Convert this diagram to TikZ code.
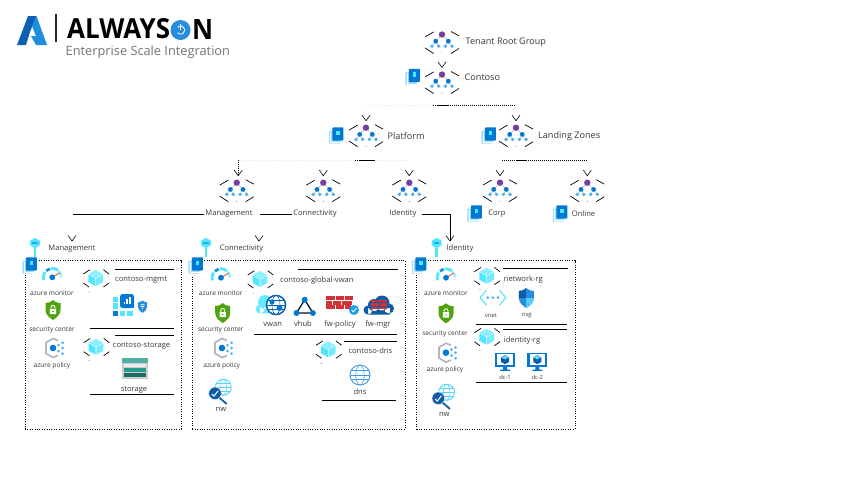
\documentclass[tikz,border=0pt]{standalone}
\usepackage{fontspec}
\usepackage{graphicx}
\setmainfont{Open Sans}
\usetikzlibrary{arrows.meta}
\definecolor{mgpurple}{HTML}{773E9C}
\definecolor{azblue}{HTML}{0078D4}
\definecolor{azdeep}{HTML}{0F5BA8}
\definecolor{azlight}{HTML}{50B0F0}
\definecolor{azcyan}{HTML}{50E6FF}
\definecolor{azpale}{HTML}{C3F1FF}
\definecolor{brickred}{HTML}{D13438}
\definecolor{shieldgreen}{HTML}{4FA30F}
\definecolor{hexgrey}{HTML}{B4B4C4}
\definecolor{tealband}{HTML}{2DB5A5}
\newcommand{\shieldpath}{(0,-10) .. controls (-3,-7.5) and (-5,-7) .. (-7.5,-7) -- (-7.5,0) .. controls (-7.5,5) and (-3,8) .. (0,10) .. controls (3,8) and (7.5,5) .. (7.5,0) -- (7.5,-7) .. controls (5,-7) and (3,-7.5) .. (0,-10) -- cycle}
\newcommand{\globeshape}[2]{
	\draw[#1,fill=white,line width=.9pt] (0,0) circle (#2);
	\draw[#1,line width=.6pt] (0,0) ellipse ({#2*.42} and #2);
	\draw[#1,line width=.6pt] ({-#2},0) -- (#2,0);
	\draw[#1,line width=.6pt] ({-#2*.87},{-#2*.45}) -- ({#2*.87},{-#2*.45});
	\draw[#1,line width=.6pt] ({-#2*.87},{#2*.45}) -- ({#2*.87},{#2*.45});
}
\tikzset{
	wire/.style={line width=.6pt,black},
	faintwire/.style={line width=.4pt,black!9,dotted},
	densewire/.style={line width=.6pt,black,dash pattern=on 1pt off 1pt},
	tipwire/.style={line width=.3pt,white,-{Straight Barb[black,length=5.5pt,width=8pt,line width=.6pt]}},
	blacktip/.style={-{Straight Barb[black,length=5.5pt,width=8pt,line width=.6pt]}},
	rule/.style={line width=.7pt,black},
	hexdash/.style={line width=.7pt,black},
	zonebox/.style={draw,line width=.6pt,dash pattern=on 1pt off 1.4pt,inner sep=0pt},
	lbl/.style={font=\fontsize{7.6}{9}\selectfont,text=black!78,inner sep=1pt,yshift=-.8pt},
	toplbl/.style={lbl,anchor=west,font=\fontsize{9.1}{11}\selectfont},
	svclbl/.style={lbl,font=\fontsize{6.6}{8}\selectfont},
	smalllbl/.style={lbl,font=\fontsize{5.8}{7}\selectfont},
	mgicon/.pic={
		\coordinate (-top) at (0,-6.5);
		\coordinate (-bottom) at (0,18.7);
		\draw[hexdash] (-17,2.4) -- (-8.4,-2.6);
		\draw[hexdash] (9,-3) -- (17,1.4);
		\draw[hexdash] (-17,13.4) -- (-8.4,19);
		\draw[hexdash] (9,19) -- (17,14);
		\fill (0,18.6) circle (.4);
		\draw[black!30,line width=.5pt] (-6.3,6.7) -- (0,0) -- (6.3,6.7);
		\draw[black!30,line width=.5pt] (-10,11.7) -- (-6.3,6.7) -- (-3.4,11.7) (3.4,11.7) -- (6.3,6.7) -- (10,11.7);
		\fill[mgpurple] (0,0) circle (3.2);
		\foreach \x in {-6.3,6.3} \fill[azblue] (\x,6.7) circle (2.4);
		\foreach \x in {-10,-3.4,3.4,10} \fill[azlight] (\x,11.7) circle (1.9);
	},
	subicon/.pic={
		\fill[white] (-8,-9) rectangle (8.4,9);
		\fill[azpale!70!azlight,rounded corners=.8pt] (-7.2,-5) rectangle (4,8.2);
		\draw[white,line width=.4pt] (-5.8,-4) -- (-5.8,6.8) -- (4,6.8);
		\fill[azblue,rounded corners=.8pt] (-3.6,-8.2) rectangle (7.4,5);
		\fill[azcyan] (0.2,-4.6) rectangle (3.8,-0.4);
	},
	keyicon/.pic={
		\fill[azcyan] (-1.4,0) rectangle (1.4,14);
		\fill[azcyan] (0,-5.2) -- (5,-2.2) -- (5,2.2) -- (0,5.2) -- (-5,2.2) -- (-5,-2.2) -- cycle;
		\fill[azblue!55!azcyan] (-2.6,-.6) rectangle (2.6,.6);
	},
	rgicon/.pic={
		\draw[hexdash] (-12.3,-4) -- (-5.7,-8.3);
		\draw[hexdash] (7.7,-8.3) -- (13.3,-4);
		\draw[hexdash] (-12.3,5) -- (-6.7,9);
		\draw[hexdash] (7.7,9) -- (13.3,5);
		\fill (-6.7,14) circle (.4);
		\fill[azcyan!65!white] (0,-8) -- (7.3,-4) -- (0,0) -- (-7.3,-4) -- cycle;
		\fill[azcyan] (-7.3,-3.4) -- (-.3,.5) -- (-.3,8) -- (-7.3,4) -- cycle;
		\fill[azcyan!80!white] (7.3,-3.4) -- (.3,.5) -- (.3,8) -- (7.3,4) -- cycle;
	},
	monitoricon/.pic={
		\draw[azcyan,line width=2.8pt] (-8.6,2.6) arc (163:215:9);
		\draw[azblue!70!azcyan,line width=2.8pt] (-6.1,-6.5) arc (227:255:9);
		\draw[azcyan,line width=2.8pt] (-1.2,-8.9) arc (262:310:9);
		\draw[azcyan!60!white,line width=2.8pt] (6.4,-6.3) arc (316:358:9);
		\draw[brickred!60!orange,line width=.8pt] (0,0) -- (7.5,-4.5);
		\fill[azblue] (0,0) circle (2.9);
	},
	secicon/.pic={
		\fill[shieldgreen] \shieldpath;
		\fill[white,rounded corners=.4pt] (-3.2,-1.2) rectangle (3.2,4.2);
		\draw[white,line width=.9pt] (-2,-1.2) -- (-2,-2.6) arc (180:360:2) -- (2,-1.2);
		\fill[shieldgreen] (0,1.5) circle (.8);
	},
	policyicon/.pic={
		\draw[hexgrey,line width=1.7pt] (5,-7.4) -- (0,-9.5) -- (-7,-5.4) -- (-7,5.4) -- (0,9.5) -- (5,7.4);
		\fill[azblue] (0,0) circle (3.3);
		\foreach \x/\y in {5.5/-3,5.5/3,9.6/-5.2,9.6/0,9.6/5.6} \fill[azlight] (\x,\y) circle (1.5);
	},
	nwicon/.pic={
		\begin{scope}[shift={(8.3,-6)}]
			\globeshape{azcyan!70!azlight}{8}
		\end{scope}
		\draw[azdeep,line width=1.8pt,line cap=round] (4,4) -- (11.5,10.5);
		\draw[white,fill=azdeep,line width=.4pt] (0,0) circle (6.3);
		\draw[white,line width=1pt] (-3.2,.8) -- (-1,2.8) -- (3.2,-2.6);
	},
	tilesicon/.pic={
		\foreach \x/\y in {-11.7/-1.7,-11.7/5,-4.7/12.3,3/12.3} \fill[azcyan] (\x-2.6,\y-2.6) rectangle (\x+2.6,\y+2.6);
		\fill[azblue] (-14.3,9.7) rectangle (-9.1,14.9);
		\fill[azblue,rounded corners=2.6pt] (-7,-7) -- (7,-7) -- (7,7) -- (-7,7) -- cycle;
		\fill[azblue] (0,7) rectangle (7,3);
		\foreach \x/\h in {-2.5/2.5,.2/5,2.9/7} \fill[white] (\x-.8,3) rectangle (\x+.8,3-\h);
		\begin{scope}[shift={(15.5,5.7)},scale=.62]
			\fill[azblue!85!white] \shieldpath;
			\draw[white,line width=.6pt] (-3.6,-2.4) arc (215:325:4.4);
			\draw[white,line width=.6pt] (-2,0) arc (225:315:2.8);
			\fill[white] (0,2.6) circle (1.1);
		\end{scope}
	},
	storageicon/.pic={
		\fill[black!20] (-13,-10.5) rectangle (13,10.5);
		\fill[tealband!85!black!80] (-13,-10.5) rectangle (13,-5.5);
		\fill[black!8] (-11,-4.5) rectangle (11,-1);
		\fill[tealband!85!black] (-11,-.5) rectangle (11,3.5);
		\fill[tealband!60!black] (-11,5) rectangle (11,9);
	},
	vwanicon/.pic={
		\fill[azcyan!85!white] (-16,4) circle (4.4) (-11,-3) circle (7) (-5,3) circle (5) (-16,2) rectangle (0,8.4);
		\globeshape{azdeep!70!azblue}{9.6}
		\draw[azdeep!70!azblue,line width=1.4pt] (0,0) circle (9.6);
		\fill[azblue] (-4,-3) circle (2.6) (3.5,3) circle (3);
	},
	vhubicon/.pic={
		\draw[black!80!azdeep,line width=1.3pt] (0,-7) -- (-8.2,6.3) -- (8.2,6.3) -- cycle;
		\fill[azblue] (0,-7) circle (3) (-8.2,6.3) circle (3) (8.2,6.3) circle (3);
	},
	wallicon/.pic={
		\foreach \y/\xa/\xb in {-7/-15/-6,-7/-5/3,-7/4/12,-2.3/-15/-9,-2.3/-8/0,-2.3/1/11,2.4/-15/-6,2.4/-5/3,2.4/4/10} \fill[brickred] (\xa,\y-2) rectangle (\xb,\y+2);
		\fill[azblue!65!azcyan] (13,5) circle (5);
		\draw[white,line width=.8pt] (10.6,5) -- (12.4,7) -- (15.4,3);
	},
	mgricon/.pic={
		\fill[azdeep] (-11,5) circle (4.5) (-5,0) circle (6) (3,-2) circle (7.5) (10,3.5) circle (5) (-11,3) rectangle (11,9.5);
		\foreach \y/\xa/\xb in {-4/-8/-2,-4/-1/8,-.5/-8/0,-.5/1/8,3/-8/-2,3/-1/8} \fill[brickred] (\xa,\y-1.4) rectangle (\xb,\y+1.4);
	},
	dnsicon/.pic={\globeshape{azblue!75!white}{10}},
	vneticon/.pic={
		\draw[azcyan,line width=1.1pt] (-6.5,-7.5) -- (-13,0) -- (-6.5,7.5) (6.5,-7.5) -- (13,0) -- (6.5,7.5);
		\foreach \x in {-5.3,0,5} \fill[azlight] (\x,0) circle (1.5);
	},
	nsgicon/.pic={
		\begin{scope}
			\clip \shieldpath;
			\fill[azblue!85!white] (-8,-10) rectangle (8,10);
			\fill[azdeep] (-8,-10) rectangle (0,0);
			\fill[azcyan!55!azlight] (0,0) rectangle (8,10);
		\end{scope}
	},
	dcicon/.pic={
		\fill[azblue] (-10,-7.5) rectangle (10,7);
		\fill[white] (-7.8,-5.6) rectangle (7.8,5);
		\fill[azblue] (-2,7) rectangle (2,9.5) (-5,9.5) rectangle (5,10.8);
		\fill[azdeep] (0,-4.8) -- (4,-2.6) -- (4,2) -- (0,4.2) -- (-4,2) -- (-4,-2.6) -- cycle;
		\fill[azcyan] (0,-4.4) -- (3.6,-2.5) -- (0,-.7) -- (-3.6,-2.5) -- cycle;
	},
}
\begin{document}
\begin{tikzpicture}[x=1pt,y=-1pt,line join=round]
	\useasboundingbox (0,0) rectangle (853,480);
	% logo
	\fill[azdeep!80!azblue] (17,45) -- (28,16) -- (36.5,16) -- (30,32) -- (26,45) -- cycle;
	\fill[azblue!60!azlight] (36.5,16) -- (47,45) -- (36,45) -- (31,36) -- (36,36) -- (32,26) -- cycle;
	\fill[black!85] (55.3,14) rectangle (57,42);
	\node[anchor=west,inner sep=0pt] (logoname) at (67,29) {\resizebox{103pt}{20pt}{\bfseries ALWAYS}};
	\fill[azblue!85!white] (180.5,30) circle (10);
	\draw[white,line width=.9pt] (177.6,27.2) arc (223.4:496.6:4.1);
	\draw[white,line width=.9pt] (180.5,24.4) -- (180.5,29.6);
	\node[anchor=west,inner sep=0pt] (logoend) at (192,29) {\resizebox{21pt}{20pt}{\bfseries N}};
	\node[anchor=west,inner sep=0pt,font=\fontsize{12.8}{14}\selectfont,text=black!55] (logosub) at (65.5,51.7) {Enterprise Scale Integration};
	% management groups
	\foreach \n/\x/\y in {tenantmg/442/34.5,contosomg/442/74.5,platformmg/366/127.7,zonesmg/516/127.7,mgmtmg/236.7/182.7,connmg/323.3/182.7,identmg/409.3/182.7,corpmg/500/182.7,onlinemg/587.3/182.7}
		\pic (\n) at (\x,\y) {mgicon};
	\foreach \n/\lab/\x/\y in {tenant/Tenant Root Group/464.5/41.7,contoso/Contoso/463.5/76,platform/Platform/386.5/135,zones/Landing Zones/537/135}
		\node[toplbl] (\n) at (\x,\y) {\lab};
	\foreach \n/\lab/\x/\y in {mgmt/Management/229/213,conn/Connectivity/315/213,ident/Identity/403/213,corp/Corp/497/213,online/Online/583.5/213,mgmtkey/Management/72/247.5,connkey/Connectivity/241.5/247.5,identkey/Identity/460/247.5}
		\node[lbl] (\n) at (\x,\y) {\lab};
	\foreach \x/\y in {35/243,206/243,436.7/243}
		\pic at (\x,\y) {keyicon};
	% zones
	\node[zonebox,minimum width=156pt,minimum height=168.3pt] (mgmtbox) at (103,344.8) {};
	\node[zonebox,minimum width=212.7pt,minimum height=168.3pt] (connbox) at (298.7,344.8) {};
	\node[zonebox,minimum width=158.3pt,minimum height=168.3pt] (identbox) at (495.8,344.8) {};
	\foreach \x/\y in {412.5/77,336/135.5,488.5/135.5,474.5/213.5,560/213.5,29.5/265.5,195.5/265.5,419/265.5}
		\pic at (\x,\y) {subicon};
	% icons with a label under them
	\foreach \n/\kind/\sty/\lab/\ix/\iy/\lx/\ly in {
		mona/monitoricon/svclbl/azure monitor/52.3/277.3/52/292,
		seca/secicon/svclbl/security center/53/310/52/328.7,
		pola/policyicon/svclbl/azure policy/53/348/52/365,
		stor/storageicon/lbl/storage/134.7/368.3/134/388.7,
		monb/monitoricon/svclbl/azure monitor/221/277.7/220.7/292.7,
		secb/secicon/svclbl/security center/222.7/313/220.7/329.3,
		polb/policyicon/svclbl/azure policy/222/348/221.7/365,
		nwb/nwicon/lbl/nw/215/393.3/221/409,
		vwan/vwanicon/lbl/vwan/276/305/272.7/323.3,
		vhub/vhubicon/lbl/vhub/304.7/306.7/303/323.3,
		fwpol/wallicon/lbl/fw-policy/341/305/340/323.3,
		fwmgr/mgricon/lbl/fw-mgr/379/305/378/323.3,
		dns/dnsicon/lbl/dns/360/375/360/391.3,
		monc/monitoricon/svclbl/azure monitor/446/277.7/446/292.7,
		secc/secicon/svclbl/security center/446/313.3/445/332.7,
		polc/policyicon/svclbl/azure policy/446/352.7/445/369.3,
		nwc/nwicon/lbl/nw/438.3/398.3/444.3/413.3,
		vnet/vneticon/smalllbl/vnet/493/297.7/491/314.7,
		nsg/nsgicon/smalllbl/nsg/526.3/298/526.7/314.7,
		dca/dcicon/smalllbl/dc-1/505/360/505/376.7,
		dcb/dcicon/smalllbl/dc-2/537.3/360/537.3/376.7}
	{
		\pic at (\ix,\iy) {\kind};
		\node[\sty] (\n) at (\lx,\ly) {\lab};
	}
	\pic at (127,301) {tilesicon};
	% resource groups
	\foreach \n/\lab/\ix/\iy/\lx/\ly in {
		rgmgmt/contoso-mgmt/95.7/278/114/279,
		rgstor/contoso-storage/96/346.7/111.7/344.7,
		rgvwan/contoso-global-vwan/260/279/279/279.5,
		rgdns/contoso-dns/328.3/349.3/347.3/350,
		rgnet/network-rg/486.7/275.7/502.7/279,
		rgident/identity-rg/486.7/336.7/502.7/339.3}
	{
		\pic at (\ix,\iy) {rgicon};
		\node[lbl,anchor=west] (\n) at (\lx,\ly) {\lab};
	}
	% separators
	\foreach \n/\xa/\xb/\y in {a/115/174/269.3,b/90/173.5/328.7,c/115/173.5/335.3,d/90/173.5/394.7,e/297.7/397.7/269.3,f/254/397/334.3,g/344.3/397/341.3,h/321.7/396/400.7,i/503.3/568/268.3,j/475.7/567/324.3,k/503.3/567/329.3,l/475.7/567/382.7}
	{
		\coordinate (rule\n l) at (\xa,\y);
		\coordinate (rule\n r) at (\xb,\y);
		\draw[rule] (rule\n l) -- (rule\n r);
	}
	% connectors
	\coordinate (contosobus) at (442,105);
	\coordinate (platformbus) at (366,160.3);
	\coordinate (zonesbus) at (516,160.3);
	\draw[tipwire] (tenantmg-bottom) -- (contosomg-top);
	\draw[faintwire] (contosobus) -- (platformmg-top |- contosobus);
	\draw[densewire] (contosobus) -- ([xshift=-10]contosobus);
	\draw[densewire] (contosobus) -- (zonesmg-top |- contosobus);
	\draw[wire] ([xshift=-5]contosobus) -- ([xshift=6]contosobus);
	\draw[tipwire] (platformmg-top |- contosobus) -- (platformmg-top);
	\draw[tipwire] (zonesmg-top |- contosobus) -- (zonesmg-top);
	\draw[faintwire] (platformbus) -- (mgmtmg-top |- platformbus);
	\draw[faintwire] (platformbus) -- (identmg-top |- platformbus);
	\draw[densewire] ([xshift=-11]platformbus) -- ([xshift=-6]platformbus);
	\draw[wire] ([xshift=-6]platformbus) -- ([xshift=9]platformbus);
	\draw[densewire,blacktip] ([xshift=1.5]mgmtmg-top |- platformbus) -- ([xshift=1.5]mgmtmg-top);
	\draw[tipwire] (connmg-top |- platformbus) -- (connmg-top);
	\draw[tipwire] (identmg-top |- platformbus) -- (identmg-top);
	\draw[densewire] (corpmg-top |- zonesbus) -- (onlinemg-top |- zonesbus);
	\draw[wire] (zonesbus) -- ([xshift=10]zonesbus);
	\draw[tipwire] (corpmg-top |- zonesbus) -- (corpmg-top);
	\draw[tipwire] (onlinemg-top |- zonesbus) -- (onlinemg-top);
	\coordinate (mgmtdrop) at (72,241.5);
	\coordinate (conndrop) at (259,241.5);
	\coordinate (identdrop) at (450,241.5);
	\draw[wire] (mgmt.west) -- (mgmt.west -| mgmtdrop);
	\draw[tipwire] (mgmt.west -| mgmtdrop) -- (mgmtdrop);
	\draw[wire] (conn.west) -- (conn.west -| conndrop);
	\draw[tipwire] (conn.west -| conndrop) -- (conndrop);
	\draw[wire,blacktip] ([xshift=4]ident.east) -| (identdrop);
\end{tikzpicture}
\end{document}
